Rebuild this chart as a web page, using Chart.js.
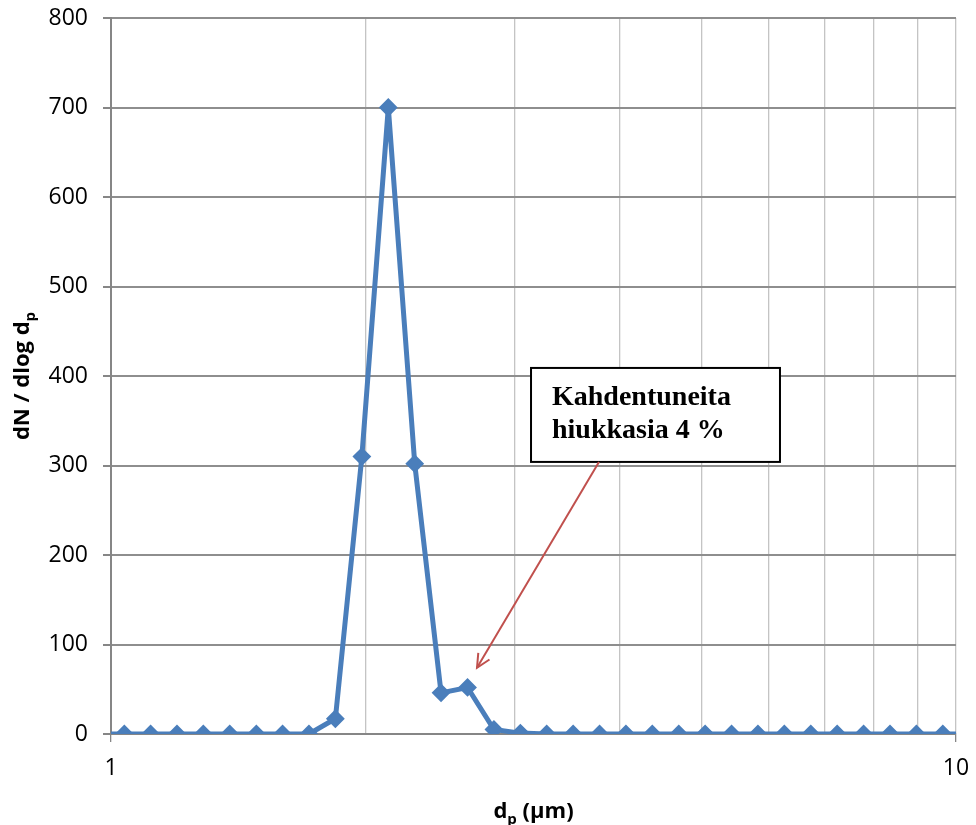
<!DOCTYPE html>
<html>
<head>
<meta charset="utf-8">
<script src="https://cdn.jsdelivr.net/npm/chart.js@4.4.1/dist/chart.umd.min.js"></script>
<style>
  html, body { margin: 0; padding: 0; background: #ffffff; }
  #wrap { width: 976px; height: 825px; position: relative; }
</style>
</head>
<body>
<div id="wrap"><canvas id="c"></canvas></div>
<script>
// Particle diameter channels (µm) and number size distribution dN/dlog dp
const diameters = [0.965, 1.037, 1.114, 1.197, 1.286, 1.382, 1.486, 1.596, 1.715,
                   1.843, 1.981, 2.129, 2.288, 2.458, 2.642, 2.839, 3.051,
                   3.278, 3.523, 3.786, 4.068, 4.371, 4.698, 5.048, 5.425, 5.829,
                   6.264, 6.732, 7.234, 7.774, 8.354, 8.977, 9.647, 10.37];
const counts    = [0, 0, 0, 0, 0, 0, 0, 0, 0,
                   17, 310, 700, 302, 46, 52, 5, 1,
                   0, 0, 0, 0, 0, 0, 0, 0, 0,
                   0, 0, 0, 0, 0, 0, 0, 0];
const xGridValues = [1, 2, 3, 4, 5, 6, 7, 8, 9, 10];
const xLabelValues = [1, 10];
const yTickStep = 100;

// Callout text
const noteLines = ['Kahdentuneita', 'hiukkasia 4 %'];

const LINE_BLUE = '#4a7ebb';
const AXIS_GREY = '#868686';
const HGRID = '#8e8e8e';
const VGRID = '#c4c4c4';
const ARROW_RED = '#c0504d';

const tickFont = { family: '"Open Sans", "Liberation Sans", sans-serif', size: 23 };

// Callout placement in data units (x in µm, y in dN/dlog dp)
const noteBox = { xMin: 3.141, xMax: 6.19, yMin: 304, yMax: 409 };
const arrowFrom = { x: 3.78, y: 304 };
const arrowTo = { x: 2.711, y: 74 };

function drawSubscripted(ctx, main, sub, cx, cy, size) {
  const mainFont = 'bold ' + size + 'px "Open Sans", "Liberation Sans", sans-serif';
  const subFont = 'bold ' + Math.round(size * 0.68) + 'px "Open Sans", "Liberation Sans", sans-serif';
  ctx.font = mainFont;
  const wMain = ctx.measureText(main).width;
  ctx.font = subFont;
  const wSub = ctx.measureText(sub).width;
  const total = wMain + wSub;
  let x = cx - total / 2;
  ctx.textAlign = 'left';
  ctx.textBaseline = 'alphabetic';
  ctx.font = mainFont;
  ctx.fillText(main, x, cy);
  ctx.font = subFont;
  ctx.fillText(sub, x + wMain, cy + size * 0.28);
}

// Keep the plot frame fixed: no extra room for overhanging edge labels
function noOverhang(scale) {
  scale.paddingTop = 0;
  scale.paddingBottom = 0;
  scale.paddingLeft = 0;
  scale.paddingRight = 0;
}

const decorations = {
  id: 'decorations',
  afterDatasetsDraw(chart) {
    const ctx = chart.ctx;
    const xs = chart.scales.x, ys = chart.scales.y;
    const area = chart.chartArea;
    ctx.save();
    ctx.fillStyle = '#000';

    // X axis title: dp (µm)
    (function () {
      const cx = (area.left + area.right) / 2;
      const cy = 818;
      const size = 22;
      const mainFont = 'bold ' + size + 'px "Open Sans", "Liberation Sans", sans-serif';
      const subFont = 'bold ' + Math.round(size * 0.68) + 'px "Open Sans", "Liberation Sans", sans-serif';
      ctx.font = mainFont;
      const w1 = ctx.measureText('d').width;
      const w3 = ctx.measureText(' (µm)').width;
      ctx.font = subFont;
      const w2 = ctx.measureText('p').width;
      let x = cx - (w1 + w2 + w3) / 2;
      ctx.textAlign = 'left';
      ctx.textBaseline = 'alphabetic';
      ctx.font = mainFont; ctx.fillText('d', x, cy);
      ctx.font = subFont; ctx.fillText('p', x + w1, cy + 6);
      ctx.font = mainFont; ctx.fillText(' (µm)', x + w1 + w2, cy);
    })();

    // Y axis title: dN / dlog dp (rotated)
    ctx.save();
    ctx.translate(29, (area.top + area.bottom) / 2);
    ctx.rotate(-Math.PI / 2);
    drawSubscripted(ctx, 'dN / dlog d', 'p', 0, 0, 22);
    ctx.restore();

    // Callout box
    const bx1 = xs.getPixelForValue(noteBox.xMin);
    const bx2 = xs.getPixelForValue(noteBox.xMax);
    const by1 = ys.getPixelForValue(noteBox.yMax);
    const by2 = ys.getPixelForValue(noteBox.yMin);
    ctx.fillStyle = '#ffffff';
    ctx.fillRect(bx1, by1, bx2 - bx1, by2 - by1);
    ctx.strokeStyle = '#000000';
    ctx.lineWidth = 2;
    ctx.strokeRect(bx1, by1, bx2 - bx1, by2 - by1);
    ctx.fillStyle = '#000000';
    ctx.font = 'bold 28px "Liberation Serif", "Times New Roman", serif';
    ctx.textAlign = 'left';
    ctx.textBaseline = 'alphabetic';
    ctx.fillText(noteLines[0], bx1 + 21, by1 + 37);
    ctx.fillText(noteLines[1], bx1 + 21, by1 + 70);

    // Arrow from the box to the small secondary peak
    const ax1 = xs.getPixelForValue(arrowFrom.x), ay1 = ys.getPixelForValue(arrowFrom.y);
    const ax2 = xs.getPixelForValue(arrowTo.x), ay2 = ys.getPixelForValue(arrowTo.y);
    ctx.strokeStyle = ARROW_RED;
    ctx.lineWidth = 2;
    ctx.beginPath();
    ctx.moveTo(ax1, ay1);
    ctx.lineTo(ax2, ay2);
    ctx.stroke();
    const ang = Math.atan2(ay2 - ay1, ax2 - ax1);
    const head = 15, spread = Math.PI / 7;
    ctx.beginPath();
    ctx.moveTo(ax2 - head * Math.cos(ang - spread), ay2 - head * Math.sin(ang - spread));
    ctx.lineTo(ax2, ay2);
    ctx.lineTo(ax2 - head * Math.cos(ang + spread), ay2 - head * Math.sin(ang + spread));
    ctx.stroke();

    ctx.restore();
  }
};

new Chart(document.getElementById('c'), {
  type: 'line',
  data: {
    datasets: [{
      data: diameters.map((d, i) => ({ x: d, y: counts[i] })),
      borderColor: LINE_BLUE,
      backgroundColor: LINE_BLUE,
      borderWidth: 5,
      pointStyle: 'rectRot',
      pointRadius: 8,
      pointBorderWidth: 2,
      pointBorderColor: LINE_BLUE,
      pointBackgroundColor: LINE_BLUE,
      tension: 0,
      fill: false
    }]
  },
  options: {
    responsive: true,
    maintainAspectRatio: false,
    animation: false,
    layout: { padding: { left: 0, right: 20, top: 18, bottom: 0 } },
    plugins: {
      legend: { display: false },
      tooltip: { enabled: false }
    },
    scales: {
      x: {
        type: 'logarithmic',
        min: 1,
        max: 10,
        afterBuildTicks(scale) {
          scale.ticks = xGridValues.map(v => ({ value: v }));
        },
        afterFit(scale) { scale.height = 91; noOverhang(scale); },
        ticks: {
          autoSkip: false,
          maxRotation: 0,
          color: '#000',
          font: tickFont,
          padding: 13,
          callback: (v) => xLabelValues.includes(v) ? String(v) : ''
        },
        grid: {
          color: VGRID,
          lineWidth: 1.3,
          tickLength: 8,
          tickColor: (ctx) => (ctx.tick && xLabelValues.includes(ctx.tick.value)) ? AXIS_GREY : 'rgba(0,0,0,0)'
        },
        border: { color: AXIS_GREY, width: 2 }
      },
      y: {
        min: 0,
        max: 800,
        afterFit(scale) { scale.width = 111; noOverhang(scale); },
        ticks: {
          stepSize: yTickStep,
          color: '#000',
          font: tickFont,
          padding: 15
        },
        grid: {
          color: HGRID,
          lineWidth: 2,
          tickLength: 8,
          tickColor: AXIS_GREY
        },
        border: { color: AXIS_GREY, width: 2 }
      }
    }
  },
  plugins: [decorations]
});
</script>
</body>
</html>
